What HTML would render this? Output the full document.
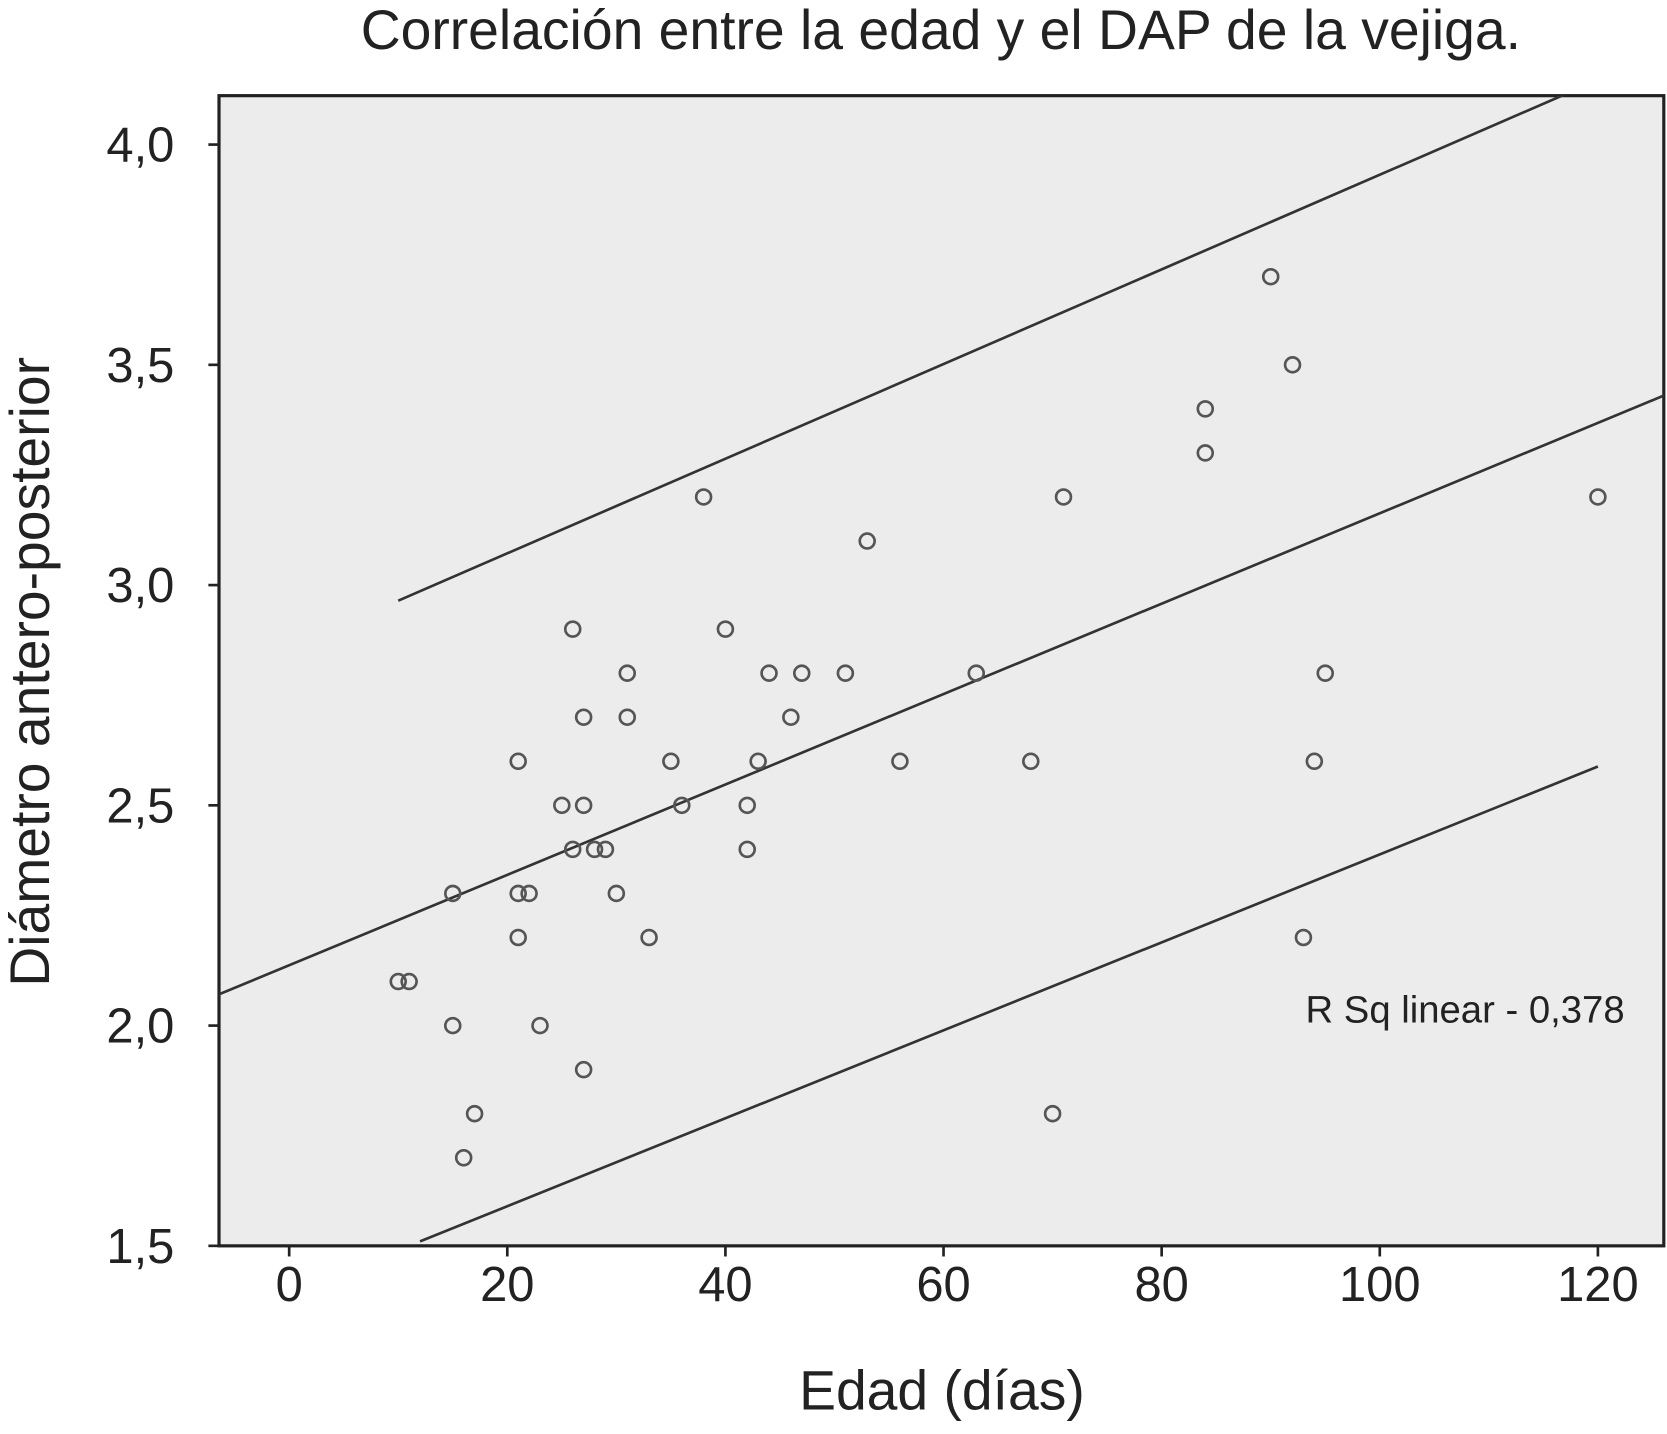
<!DOCTYPE html>
<html><head><meta charset="utf-8"><style>
html,body{margin:0;padding:0;background:#fff;}
svg{display:block;font-family:"Liberation Sans",sans-serif;}
</style></head><body>
<svg id="chart" width="1667" height="1434" viewBox="0 0 1568 1349" preserveAspectRatio="none" xmlns="http://www.w3.org/2000/svg">
<defs><clipPath id="clip"><rect x="206" y="90" width="1359" height="1082"/></clipPath></defs>
<text x="885" y="46" font-size="52" text-anchor="middle" fill="#222">Correlación entre la edad y el DAP de la vejiga.</text>
<rect x="206" y="90" width="1359" height="1082" fill="#ececec" stroke="#222" stroke-width="3"/>
<g id="lines" clip-path="url(#clip)"></g>
<g id="points"></g>
<g id="axes"></g>
<text x="1228" y="962" font-size="36" fill="#222">R Sq linear - 0,378</text>
<text x="886" y="1326" font-size="52" text-anchor="middle" fill="#222">Edad (días)</text>
<text transform="translate(46,632) rotate(-90)" font-size="52" text-anchor="middle" fill="#222">Diámetro antero-posterior</text>
</svg>
<script>
const ageDays=[10,11,15,15,16,17,21,21,21,22,23,25,26,26,27,27,27,28,29,30,31,31,33,35,36,38,40,42,42,43,44,46,47,51,53,56,63,68,70,71,84,84,90,92,93,94,95,120];
const dapValues=[2.1,2.1,2.3,2.0,1.7,1.8,2.6,2.3,2.2,2.3,2.0,2.5,2.9,2.4,2.7,2.5,1.9,2.4,2.4,2.3,2.8,2.7,2.2,2.6,2.5,3.2,2.9,2.5,2.4,2.6,2.8,2.7,2.8,2.8,3.1,2.6,2.8,2.6,1.8,3.2,3.4,3.3,3.7,3.5,2.2,2.6,2.8,3.2];
const xTicks=[0,20,40,60,80,100,120];
const yTicks=[1.5,2.0,2.5,3.0,3.5,4.0];
const yTickLabels=["1,5","2,0","2,5","3,0","3,5","4,0"];
const fitIntercept=2.137, fitSlope=0.01026;
const X=v=>272+v*(1503-272)/120;
const Y=v=>1172-(v-1.5)*414.4;
const NS="http://www.w3.org/2000/svg";
function mk(tag,attrs,parent){const e=document.createElementNS(NS,tag);for(const k in attrs)e.setAttribute(k,attrs[k]);parent.appendChild(e);return e;}
const lines=document.getElementById('lines');
const fx=v=>fitIntercept+fitSlope*v;
let l=mk('line',{x1:X(-10),y1:Y(fx(-10)),x2:X(130),y2:Y(fx(130)),stroke:'#333','stroke-width':2.5},lines);


l=mk('line',{x1:X(10),y1:Y(fx(10)+0.725),x2:X(130),y2:Y(fx(130)+0.783),stroke:'#333','stroke-width':2.5},lines);


l=mk('line',{x1:X(12),y1:Y(fx(12)-0.75),x2:X(120),y2:Y(fx(120)-0.78),stroke:'#333','stroke-width':2.5},lines);


const pts=document.getElementById('points');
ageDays.forEach((a,i)=>{
 const c=mk('circle',{cx:X(a),cy:Y(dapValues[i]),r:7,fill:'none',stroke:'#555','stroke-width':2.5},pts);
 
 
});
const ax=document.getElementById('axes');
xTicks.forEach(t=>{
 mk('line',{x1:X(t),y1:1172,x2:X(t),y2:1182,stroke:'#222','stroke-width':2.5},ax);
 const tx=mk('text',{x:X(t),y:1224,'font-size':46,'text-anchor':'middle',fill:'#222'},ax);
 tx.textContent=t;
 
 
});
yTicks.forEach((t,i)=>{
 mk('line',{x1:196,y1:Y(t),x2:206,y2:Y(t),stroke:'#222','stroke-width':2.5},ax);
 const tx=mk('text',{x:164,y:Y(t)+16,'font-size':46,'text-anchor':'end',fill:'#222'},ax);
 tx.textContent=yTickLabels[i];
 
 
});
</script>
</body></html>
